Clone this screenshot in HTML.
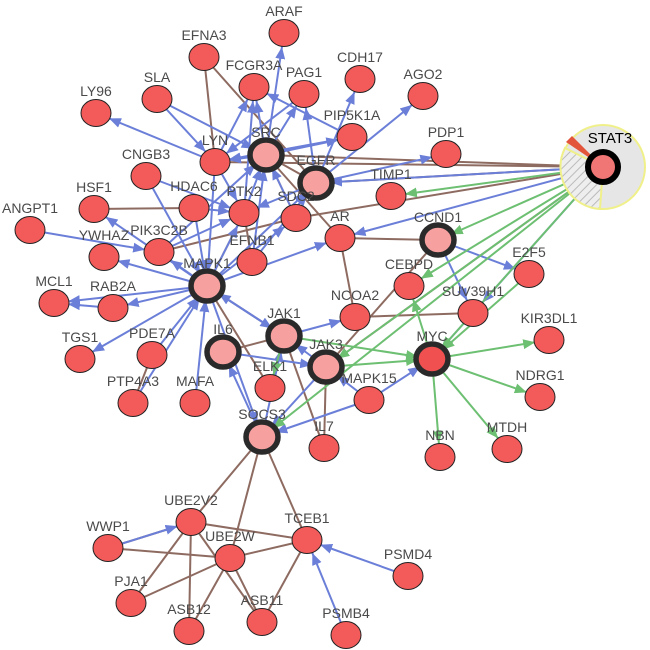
<!DOCTYPE html>
<html><head><meta charset="utf-8"><style>
html,body{margin:0;padding:0;background:#fff;width:650px;height:650px;overflow:hidden}
svg text{font-family:"Liberation Sans",sans-serif;font-size:14px;fill:#4a4a4a;text-anchor:middle}
</style></head><body>
<svg id="s" width="650" height="650" xmlns="http://www.w3.org/2000/svg">
<defs>
<marker id="ab" markerUnits="userSpaceOnUse" markerWidth="12" markerHeight="10" refX="26" refY="5" orient="auto"><path d="M0,0 L12,5 L0,10 z" fill="#6b7fd8"/></marker>
<marker id="ag" markerUnits="userSpaceOnUse" markerWidth="12" markerHeight="10" refX="26" refY="5" orient="auto"><path d="M0,0 L12,5 L0,10 z" fill="#6dbf72"/></marker>
<pattern id="hatch" width="6" height="6" patternUnits="userSpaceOnUse" patternTransform="rotate(45)"><rect width="6" height="6" fill="#eee"/><line x1="0" y1="0" x2="0" y2="6" stroke="#bbb" stroke-width="2"/></pattern>
</defs>
<g id="edges"></g>
<g id="stat"></g>
<g id="nodes"></g>
</svg>
<script>
var N={ARAF:[284,33],EFNA3:[204,57],FCGR3A:[254,87],PAG1:[304,94],CDH17:[360,79],AGO2:[423,96],SLA:[157,99],LY96:[96,113],
PIP5K1A:[352,137],PDP1:[446,154],LYN:[215,162],SRC:[266,155],EGFR:[316,183],CNGB3:[146,176],HDAC6:[194,208],PTK2:[244,213],SDC:[296,218],
HSF1:[94,209],ANGPT1:[30,230],TIMP1:[391,196],STAT3:[603,167],AR:[340,238],CCND1:[438,240],PIK3C2B:[159,252],YWHAZ:[104,257],EFNB1:[252,262],
MAPK1:[207,286],MCL1:[54,303],RAB2A:[113,308],CEBPD:[409,286],E2F5:[529,274],NCOA2:[355,317],SUV39H1:[473,313],JAK1:[284,336],IL6:[223,352],
TGS1:[80,359],PDE7A:[152,355],KIR3DL1:[549,340],JAK3:[326,367],MYC:[432,359],ELK1:[270,388],MAPK15:[369,400],PTP4A3:[133,403],MAFA:[195,403],
NDRG1:[540,397],SOCS3:[262,437],IL7:[324,448],NBN:[440,457],MTDH:[507,449],UBE2V2:[191,522],TCEB1:[307,540],WWP1:[108,548],UBE2W:[230,558],
PSMD4:[408,576],PJA1:[131,603],ASB12:[189,631],ASB11:[262,622],PSMB4:[346,635]};
var hubs=["SRC","EGFR","MAPK1","JAK1","IL6","JAK3","MYC","SOCS3","CCND1"];
var labels={SDC:"SDC2",EFNB1:"EFNB1"};
var B=[["SRC","ARAF"],["SRC","FCGR3A"],["LYN","FCGR3A"],["EGFR","CDH17"],["EGFR","AGO2"],["SLA","LYN"],["SLA","SRC"],["LYN","LY96"],["SRC","LYN"],["EGFR","PDP1"],
["SRC","PIP5K1A"],["PIP5K1A","FCGR3A"],["PIP5K1A","LYN"],["PAG1","LYN"],["CNGB3","PTK2"],["CNGB3","MAPK1"],["HDAC6","PTK2"],["MAPK1","HSF1"],["ANGPT1","PIK3C2B"],
["MAPK1","YWHAZ"],["MAPK1","MCL1"],["MAPK1","RAB2A"],["RAB2A","MCL1"],["MAPK1","TGS1"],["PDE7A","MAPK1"],["PTP4A3","MAPK1"],["MAFA","MAPK1"],["MAPK1","JAK1"],
["MAPK1","AR"],["EFNB1","SRC"],["PTK2","SRC"],["MAPK1","PTK2"],["MAPK1","EGFR"],["MAPK1","SDC"],["PIK3C2B","PTK2"],["PIK3C2B","SRC"],["JAK1","NCOA2"],["SOCS3","IL6"],
["JAK1","MAPK1"],["MAPK15","JAK3"],["MAPK15","MYC"],["SOCS3","JAK1"],["JAK3","JAK1"],["STAT3","SUV39H1"],["STAT3","EGFR"],["STAT3","AR"],["CCND1","E2F5"],["CCND1","SUV39H1"],
["WWP1","UBE2V2"],["PSMD4","TCEB1"],["PSMB4","TCEB1"],["IL6","JAK3"],["JAK3","SOCS3"],["MAPK15","SOCS3"],["LYN","PTK2"],["EGFR","PAG1"],["HDAC6","MAPK1"],["EFNB1","EGFR"],
["SDC","SRC"],["MAPK1","PIK3C2B"],["EGFR","PTK2"],["MAPK1","SOCS3"],["JAK1","ELK1"],["SUV39H1","MYC"],["LYN","MAPK1"],["PTK2","FCGR3A"],["SRC","PAG1"]];
var R=[["EFNA3","LYN"],["EFNA3","EGFR"],["SRC","EGFR"],["SRC","STAT3"],["EGFR","STAT3"],["LYN","STAT3"],["SDC","STAT3"],["HSF1","HDAC6"],["AR","CCND1"],["AR","NCOA2"],
["NCOA2","SUV39H1"],["CCND1","JAK3"],["STAT3","JAK3"],["MAPK1","JAK1"],["IL6","JAK1"],["JAK1","IL7"],["JAK3","IL7"],["SOCS3","UBE2V2"],["SOCS3","UBE2W"],["SOCS3","TCEB1"],
["UBE2V2","WWP1"],["UBE2V2","TCEB1"],["UBE2V2","PJA1"],["UBE2V2","ASB12"],["UBE2V2","ASB11"],["WWP1","UBE2W"],["UBE2W","TCEB1"],["UBE2W","PJA1"],["UBE2W","ASB12"],
["UBE2W","ASB11"],["TCEB1","ASB11"],["PIK3C2B","SDC"],["PTK2","EFNB1"],["SRC","SDC"],["MAPK1","ELK1"],["PDE7A","PTP4A3"],["SRC","AR"],["PTK2","MAPK1"]];
var G=[["STAT3","TIMP1"],["STAT3","CCND1"],["STAT3","CEBPD"],["STAT3","MYC"],["E2F5","MYC"],["STAT3","SOCS3"],["STAT3","JAK3"],["JAK1","MYC"],["JAK3","MYC"],["MYC","CEBPD"],
["MYC","KIR3DL1"],["MYC","NDRG1"],["MYC","NBN"],["MYC","MTDH"],["JAK1","ELK1"]];
var ns="http://www.w3.org/2000/svg",E=document.getElementById("edges");
function line(a,b,c,m){var l=document.createElementNS(ns,"line");var p=N[a],q=N[b];
l.setAttribute("x1",p[0]);l.setAttribute("y1",p[1]);l.setAttribute("x2",q[0]);l.setAttribute("y2",q[1]);
l.setAttribute("stroke",c);l.setAttribute("stroke-width","2");if(m)l.setAttribute("marker-end","url(#"+m+")");E.appendChild(l);}
R.forEach(function(e){line(e[0],e[1],"#8e6b61")});
B.forEach(function(e){line(e[0],e[1],"#6b7fd8","ab")});
G.forEach(function(e){line(e[0],e[1],"#6dbf72","ag")});
var S=document.getElementById("stat");
S.innerHTML='<circle cx="603" cy="167" r="42" fill="#e6e6e6" stroke="#f0f08a" stroke-width="2"/>'+
'<path d="M603,167 L565,148 A42,42 0 0 0 600,209 Z" fill="url(#hatch)" stroke="#f0f08a" stroke-width="2"/>'+
'<path d="M603,167 L572,136 L566,142 Z" fill="#e2553a"/>';
var ND=document.getElementById("nodes"),h="";
for(var k in N){if(k=="STAT3")continue;var p=N[k];
if(hubs.indexOf(k)>=0){h+='<ellipse cx="'+p[0]+'" cy="'+p[1]+'" rx="16" ry="15" fill="'+(k=="MYC"?"#f05050":"#f7a0a0")+'" stroke="#2a2a2a" stroke-width="5.5"/>';}
else h+='<ellipse cx="'+p[0]+'" cy="'+p[1]+'" rx="15" ry="13.5" fill="#f35b5b" stroke="#222" stroke-width="1"/>';
h+='<text x="'+p[0]+'" y="'+(p[1]-(hubs.indexOf(k)>=0?18:17))+'">'+(labels[k]||k)+'</text>';}
h+='<circle cx="603" cy="167" r="15" fill="#f07575" stroke="#000" stroke-width="6"/><text x="610" y="143" style="fill:#000;font-size:15px">STAT3</text>';
ND.innerHTML=h;
</script>
</body></html>
